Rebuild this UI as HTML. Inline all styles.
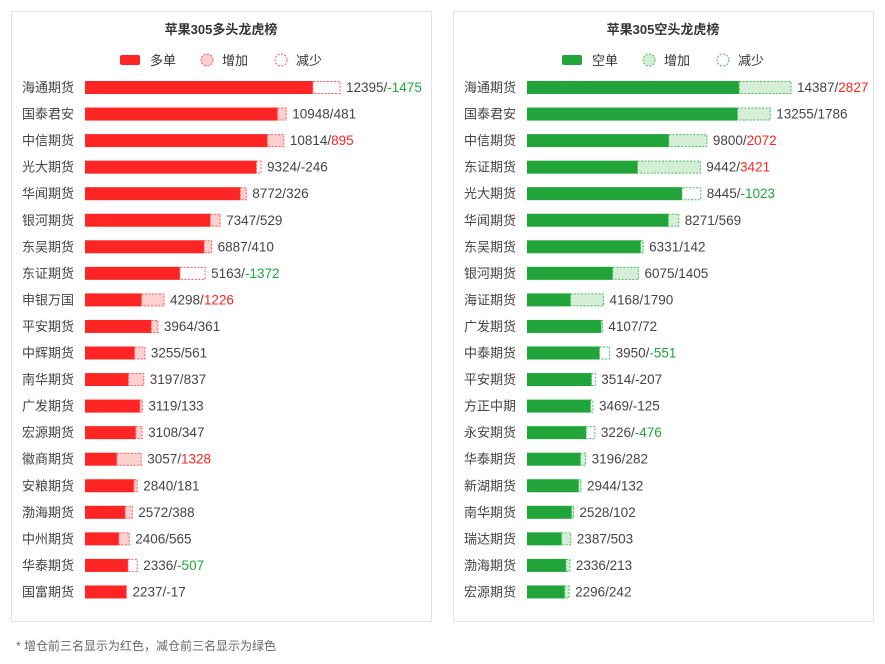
<!DOCTYPE html>
<html><head><meta charset="utf-8"><style>
body{margin:0;background:#fff;}
svg text{font-family:"Liberation Sans","Noto Sans CJK SC",sans-serif;}
</style></head><body>
<svg id="s" width="885" height="659" xmlns="http://www.w3.org/2000/svg">
<rect x="11.5" y="11.5" width="420" height="610" fill="#fff" stroke="#e3e3e3"/>
<rect x="453.5" y="11.5" width="420" height="610" fill="#fff" stroke="#e3e3e3"/>
<text x="221" y="34" text-anchor="middle" font-size="13" font-weight="bold" fill="#333">苹果305多头龙虎榜</text>
<text x="663" y="34" text-anchor="middle" font-size="13" font-weight="bold" fill="#333">苹果305空头龙虎榜</text>
<rect x="120" y="55" width="20" height="10" rx="2" fill="#ff2525"/>
<text x="150" y="65" font-size="13" fill="#333">多单</text>
<circle cx="207" cy="60" r="6" fill="#ffd0d0" stroke="#ff5555" stroke-dasharray="2,1.5"/>
<text x="222" y="65" font-size="13" fill="#333">增加</text>
<circle cx="281" cy="60" r="6" fill="#fff" stroke="#ff5555" stroke-dasharray="2,1.5"/>
<text x="296" y="65" font-size="13" fill="#333">减少</text>
<rect x="562" y="55" width="20" height="10" rx="2" fill="#21a53a"/>
<text x="592" y="65" font-size="13" fill="#333">空单</text>
<circle cx="649" cy="60" r="6" fill="#d4eed8" stroke="#44bb55" stroke-dasharray="2,1.5"/>
<text x="664" y="65" font-size="13" fill="#333">增加</text>
<circle cx="723" cy="60" r="6" fill="#fff" stroke="#44bb55" stroke-dasharray="2,1.5"/>
<text x="738" y="65" font-size="13" fill="#333">减少</text>
<text x="16" y="650" font-size="12" fill="#666">* 增仓前三名显示为红色，减仓前三名显示为绿色</text>
<g id="g"></g>
</svg>
<script>
var L=[["海通期货",12395,-1475],["国泰君安",10948,481],["中信期货",10814,895],["光大期货",9324,-246],["华闻期货",8772,326],["银河期货",7347,529],["东吴期货",6887,410],["东证期货",5163,-1372],["申银万国",4298,1226],["平安期货",3964,361],["中辉期货",3255,561],["南华期货",3197,837],["广发期货",3119,133],["宏源期货",3108,347],["徽商期货",3057,1328],["安粮期货",2840,181],["渤海期货",2572,388],["中州期货",2406,565],["华泰期货",2336,-507],["国富期货",2237,-17]];
var R=[["海通期货",14387,2827],["国泰君安",13255,1786],["中信期货",9800,2072],["东证期货",9442,3421],["光大期货",8445,-1023],["华闻期货",8271,569],["东吴期货",6331,142],["银河期货",6075,1405],["海证期货",4168,1790],["广发期货",4107,72],["中泰期货",3950,-551],["平安期货",3514,-207],["方正中期",3469,-125],["永安期货",3226,-476],["华泰期货",3196,282],["新湖期货",2944,132],["南华期货",2528,102],["瑞达期货",2387,503],["渤海期货",2336,213],["宏源期货",2296,242]];
var h='';
function panel(d,nx,bx,sc,c,lc,st,red,green){
 d.forEach(function(r,i){
  var y=81+i*26.55, cy=y+6.5;
  h+='<text x="'+nx+'" y="'+(cy+4.5)+'" font-size="13" fill="#444">'+r[0]+'</text>';
  var v=r[1],ch=r[2],end;
  if(ch>=0){var s=(v-ch)*sc,t=v*sc;
   h+='<rect x="'+bx+'" y="'+y+'" width="'+s+'" height="13" fill="'+c+'"/>';
   if(ch>0)h+='<rect x="'+(bx+s)+'" y="'+(y+0.5)+'" width="'+(t-s)+'" height="12" fill="'+lc+'" stroke="'+st+'" stroke-dasharray="2,1.5"/>';
   end=bx+t;}
  else{var s=v*sc,t=(v-ch)*sc;
   h+='<rect x="'+bx+'" y="'+y+'" width="'+s+'" height="13" fill="'+c+'"/>';
   h+='<rect x="'+(bx+s)+'" y="'+(y+0.5)+'" width="'+(t-s)+'" height="12" fill="#fff" stroke="'+st+'" stroke-dasharray="2,1.5"/>';
   end=bx+t;}
  var col=red.indexOf(ch)>=0?'#ff2525':(green.indexOf(ch)>=0?'#21a53a':'#444');
  h+='<text x="'+(end+6)+'" y="'+(cy+4.5)+'" font-size="13.5" fill="#444">'+v+'/<tspan fill="'+col+'">'+ch+'</tspan></text>';
 });
}
panel(L,22,85,255/13870,'#ff2525','#ffd0d0','#ff5555',[1328,1226,895],[-1475,-1372,-507]);
panel(R,464,527,264/14387,'#21a53a','#d4eed8','#44bb55',[3421,2827,2072],[-1023,-551,-476]);
document.getElementById('g').innerHTML=h;
</script>
</body></html>
